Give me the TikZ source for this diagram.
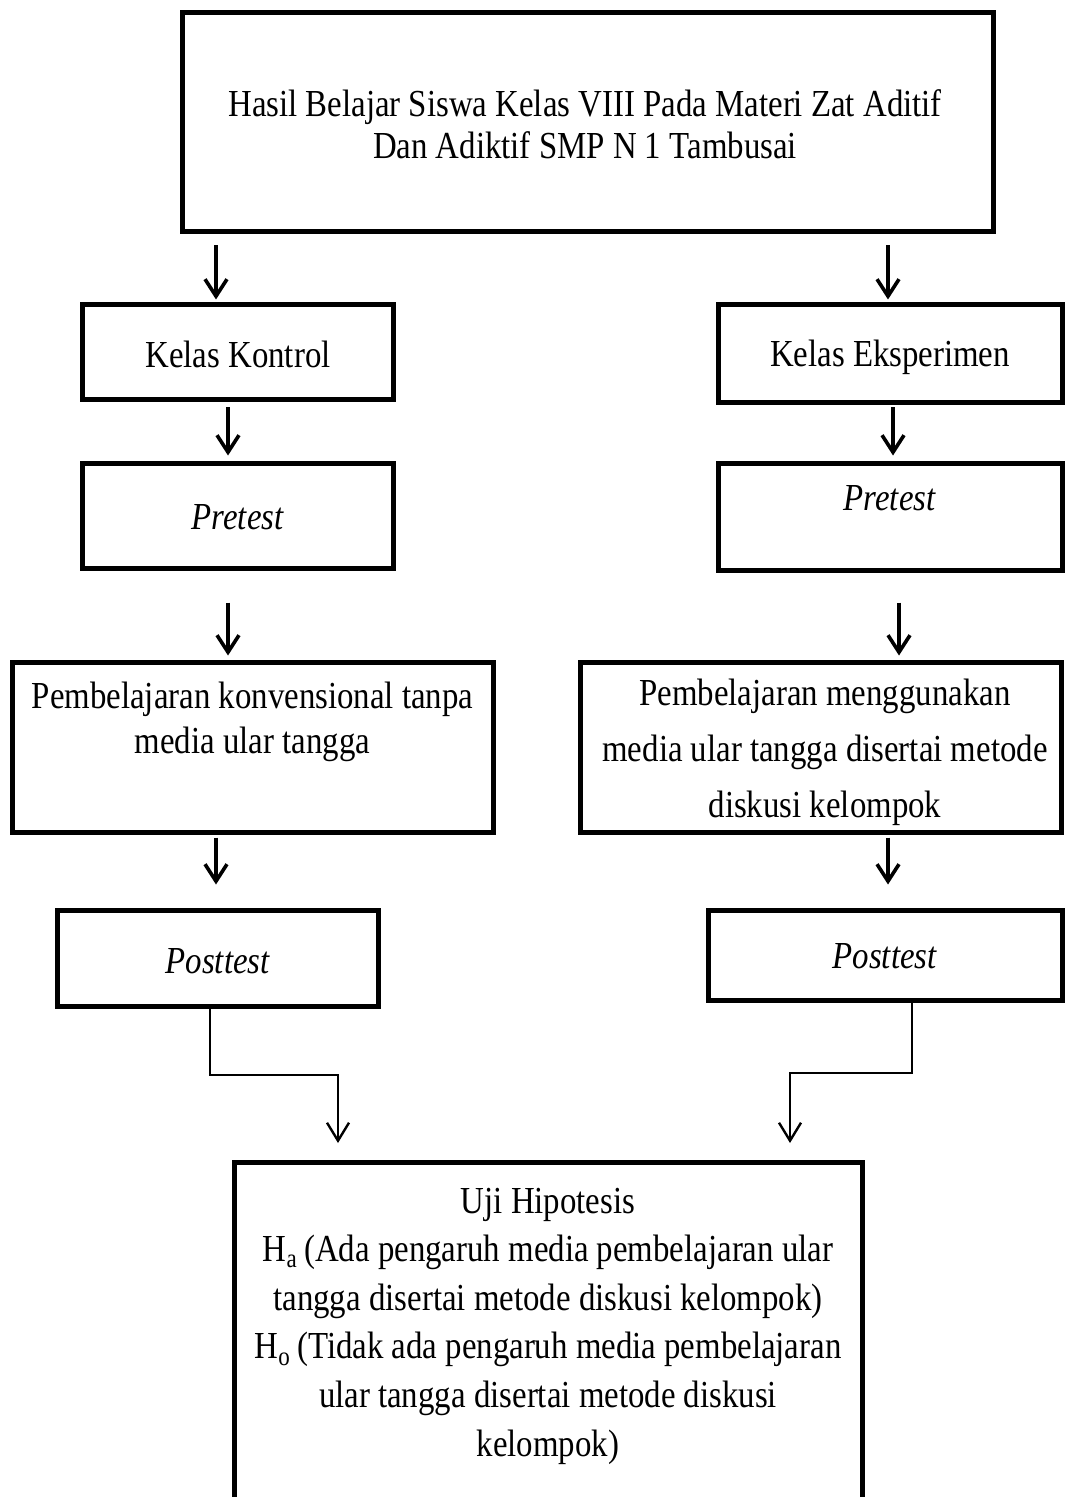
\documentclass[tikz,border=0pt]{standalone}
\usepackage{fontspec}
\setmainfont{Liberation Serif}[FakeStretch=0.86]
\usetikzlibrary{arrows.meta,calc}
\tikzset{
  box/.style={draw, line width=2.5pt, inner sep=0pt},
  txt/.style={align=center, inner sep=0pt, font=\fontsize{19.1}{21}\selectfont},
  arr/.style={line width=1.6pt, -{Straight Barb[length=8.5pt,width=11pt,line width=1.8pt]}},
  arrthin/.style={line width=1.05pt, -{Straight Barb[length=9pt,width=11pt,line width=1.2pt]}}
}
\begin{document}
\begin{tikzpicture}[x=0.5pt,y=-0.5pt]
\useasboundingbox (0,0) rectangle (1064,1497);
% boxes
\node[box, minimum width=405.5pt, minimum height=109.5pt] (top) at (587.5,122.5) {};
\node[txt, font=\fontsize{19.1}{21}\selectfont] (ttop) at (585,124) {Hasil Belajar Siswa Kelas VIII Pada Materi Zat Aditif\\Dan Adiktif SMP N 1 Tambusai};

\node[box, minimum width=155.5pt, minimum height=47.5pt] (kk) at (237.5,352.5) {};
\node[txt] (tkk) at (238,354) {Kelas Kontrol};
\node[box, minimum width=172pt, minimum height=49pt] (ke) at (890,354) {};
\node[txt] (tke) at (890,357) {Kelas Eksperimen};

\node[box, minimum width=155.5pt, minimum height=52.5pt] (pr1) at (237.5,515.5) {};
\node[txt] (tpr1) at (238,517) {\textit{Pretest}};
\node[box, minimum width=172pt, minimum height=53.5pt] (pr2) at (890,516.5) {};
\node[txt] (tpr2) at (890,498) {\textit{Pretest}};

\node[box, minimum width=240.5pt, minimum height=85pt] (pb1) at (252.5,747) {};
\node[txt, font=\fontsize{19.1}{22.5}\selectfont] (tpb1) at (252.5,722) {Pembelajaran konvensional tanpa\\media ular tangga};
\node[box, minimum width=240.5pt, minimum height=85pt] (pb2) at (820.5,747) {};
\node[txt, font=\fontsize{19.1}{28}\selectfont] (tpb2) at (825,752) {Pembelajaran menggunakan\\media ular tangga disertai metode\\diskusi kelompok};

\node[box, minimum width=160.5pt, minimum height=48pt] (po1) at (217.5,958) {};
\node[txt] (tpo1) at (218,961) {\textit{Posttest}};
\node[box, minimum width=177pt, minimum height=45pt] (po2) at (885,955) {};
\node[txt] (tpo2) at (885,956) {\textit{Posttest}};

\node[box, minimum width=314pt, minimum height=190pt, anchor=north] (hyp) at (548,1160) {};
\node[txt, font=\fontsize{19.1}{24.3}\selectfont] (thyp) at (548,1326) {Uji Hipotesis\\H\textsubscript{a}\,(Ada pengaruh media pembelajaran ular\\tangga disertai metode diskusi kelompok)\\H\textsubscript{o}\,(Tidak ada pengaruh media pembelajaran\\ular tangga disertai metode diskusi\\kelompok)};

% arrows
\draw[arr, shorten <=5.5pt, shorten >=1.5pt] (top.south -| 216,0) -- (kk.north -| 216,0);
\draw[arr, shorten <=5.5pt, shorten >=1.5pt] (top.south -| 888,0) -- (ke.north -| 888,0);
\draw[arr, shorten <=2.5pt, shorten >=2.5pt] (kk.south -| 228,0) -- (pr1.north -| 228,0);
\draw[arr, shorten <=1pt, shorten >=2.5pt] (ke.south -| 893,0) -- (pr2.north -| 893,0);
\draw[arr, shorten <=16pt, shorten >=2pt] (pr1.south -| 228,0) -- (pb1.north -| 228,0);
\draw[arr, shorten <=15pt, shorten >=2pt] (pr2.south -| 899,0) -- (pb2.north -| 899,0);
\draw[arr, shorten <=1.5pt, shorten >=11.5pt] (pb1.south -| 216,0) -- (po1.north -| 216,0);
\draw[arr, shorten <=1.5pt, shorten >=11.5pt] (pb2.south -| 888,0) -- (po2.north -| 888,0);
% elbow connectors
\draw[arrthin, shorten >=8.5pt] (po1.south -| 210,0) |- (338,1075) -- (hyp.north -| 338,0);
\draw[arrthin, shorten >=8.5pt] (po2.south -| 912,0) |- (790,1073) -- (hyp.north -| 790,0);
\end{tikzpicture}
\end{document}
